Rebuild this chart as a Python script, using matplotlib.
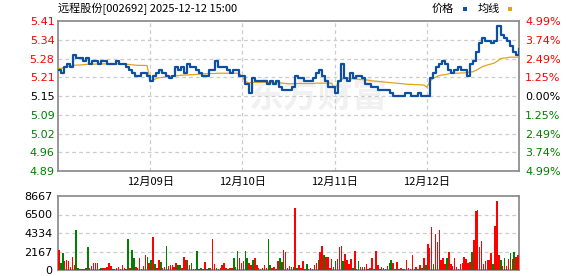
import matplotlib
matplotlib.use('Agg')
import matplotlib.pyplot as plt
import numpy as np
from matplotlib.patches import Rectangle

CJK = ['Noto Sans CJK SC', 'DejaVu Sans']
plt.rcParams['font.family'] = ['DejaVu Sans']

# ---------------- data ----------------
title = "远程股份[002692] 2025-12-12 15:00"
prev_close = 5.15
price_labels = ["5.41", "5.34", "5.28", "5.21", "5.15", "5.09", "5.02", "4.96", "4.89"]
pct_labels = ["4.99%", "3.74%", "2.49%", "1.25%", "0.00%", "1.25%", "2.49%", "3.74%", "4.99%"]
day_labels = ["12月09日", "12月10日", "12月11日", "12月12日"]
vol_labels = ["8667", "6500", "4334", "2167", "0"]
vol_top = 8667
legend_labels = ["价格", "均线"]

# price, 30 samples per day (last day has closing sample)
price_d1 = [5.24, 5.23, 5.25, 5.26, 5.25, 5.29, 5.28, 5.28, 5.27, 5.28,
            5.26, 5.27, 5.27, 5.26, 5.27, 5.27, 5.26, 5.26, 5.26, 5.27,
            5.26, 5.26, 5.25, 5.24, 5.23, 5.22, 5.22, 5.23, 5.23, 5.22]
price_d2 = [5.20, 5.22, 5.23, 5.24, 5.23, 5.22, 5.21, 5.22, 5.25, 5.24,
            5.25, 5.23, 5.26, 5.25, 5.25, 5.24, 5.23, 5.22, 5.22, 5.24,
            5.24, 5.27, 5.25, 5.25, 5.25, 5.24, 5.23, 5.24, 5.24, 5.22]
price_d3 = [5.22, 5.19, 5.16, 5.21, 5.20, 5.20, 5.20, 5.20, 5.19, 5.20,
            5.19, 5.20, 5.18, 5.17, 5.17, 5.17, 5.18, 5.22, 5.21, 5.21,
            5.20, 5.20, 5.20, 5.21, 5.23, 5.24, 5.22, 5.20, 5.18, 5.18]
price_d4 = [5.16, 5.20, 5.26, 5.21, 5.20, 5.23, 5.21, 5.22, 5.22, 5.21,
            5.19, 5.19, 5.18, 5.18, 5.17, 5.17, 5.17, 5.17, 5.16, 5.15,
            5.15, 5.15, 5.15, 5.16, 5.16, 5.15, 5.15, 5.16, 5.15, 5.15]
price_d5 = [5.15, 5.21, 5.23, 5.25, 5.26, 5.27, 5.26, 5.24, 5.23, 5.24,
            5.25, 5.24, 5.24, 5.22, 5.26, 5.27, 5.30, 5.33, 5.35, 5.34,
            5.34, 5.33, 5.34, 5.39, 5.36, 5.35, 5.34, 5.32, 5.30, 5.29,
            5.31]

avg_d1 = [5.244, 5.245, 5.247, 5.250, 5.253, 5.255, 5.256, 5.256, 5.257, 5.258,
          5.259, 5.259, 5.259, 5.260, 5.260, 5.260, 5.260, 5.260, 5.260, 5.260,
          5.260, 5.260, 5.259, 5.258, 5.257, 5.256, 5.255, 5.255, 5.255, 5.254]
avg_d2 = [5.200, 5.205, 5.210, 5.213, 5.214, 5.215, 5.217, 5.218, 5.219, 5.220,
          5.221, 5.222, 5.222, 5.223, 5.223, 5.224, 5.225, 5.226, 5.226, 5.227,
          5.227, 5.227, 5.228, 5.228, 5.228, 5.228, 5.228, 5.228, 5.228, 5.228]
avg_d3 = [5.215, 5.200, 5.195, 5.196, 5.197, 5.197, 5.197, 5.197, 5.196, 5.196,
          5.196, 5.196, 5.195, 5.194, 5.193, 5.192, 5.192, 5.193, 5.193, 5.193,
          5.193, 5.193, 5.193, 5.193, 5.194, 5.194, 5.194, 5.194, 5.194, 5.194]
avg_d4 = [5.175, 5.190, 5.205, 5.210, 5.210, 5.210, 5.209, 5.208, 5.207, 5.206,
          5.205, 5.204, 5.202, 5.201, 5.200, 5.199, 5.198, 5.197, 5.196, 5.195,
          5.194, 5.193, 5.192, 5.191, 5.190, 5.190, 5.189, 5.189, 5.188, 5.188]
avg_d5 = [5.180, 5.200, 5.210, 5.215, 5.220, 5.222, 5.223, 5.226, 5.228, 5.228,
          5.228, 5.229, 5.229, 5.230, 5.232, 5.233, 5.238, 5.244, 5.250, 5.254,
          5.257, 5.260, 5.263, 5.270, 5.278, 5.280, 5.281, 5.283, 5.283, 5.283,
          5.283]

# volume, 48 samples per day; up flag 1 = red (up), 0 = green (down)
vol_d1 = [2290, 800, 2000, 1080, 1200, 1080, 300, 1560, 600, 4690,
          200, 150, 150, 150, 200, 2690, 280, 480, 800, 800,
          840, 150, 200, 280, 200, 400, 840, 480, 150, 150,
          200, 360, 150, 600, 200, 150, 3610, 200, 2400, 1400,
          400, 200, 1440, 150, 520, 1800, 1560, 800]
up_d1 = [1, 0, 0, 1, 1, 1, 1, 1, 1, 0,
         0, 0, 1, 0, 0, 0, 1, 1, 1, 1,
         1, 1, 0, 1, 1, 1, 1, 1, 1, 0,
         1, 1, 1, 1, 1, 0, 0, 1, 0, 0,
         1, 1, 1, 1, 1, 1, 0, 1]
vol_d2 = [1200, 3850, 720, 200, 1200, 960, 280, 400, 2800, 520,
          600, 600, 400, 800, 640, 640, 200, 1520, 1160, 1160,
          600, 800, 150, 150, 2250, 150, 280, 150, 920, 150,
          200, 200, 3610, 760, 200, 150, 200, 600, 800, 200,
          150, 280, 280, 1400, 320, 2200, 1400, 800]
up_d2 = [0, 1, 0, 1, 1, 0, 1, 1, 0, 1,
         1, 1, 1, 1, 0, 0, 1, 1, 1, 0,
         1, 0, 0, 1, 0, 0, 0, 1, 1, 1,
         0, 1, 1, 1, 0, 1, 1, 1, 1, 1,
         1, 1, 1, 0, 0, 0, 1, 1]
vol_d3 = [1000, 2200, 1400, 800, 600, 1160, 1440, 600, 200, 150,
          200, 600, 200, 3610, 640, 200, 360, 150, 1040, 1360,
          960, 2290, 2130, 200, 480, 360, 400, 7300, 200, 560,
          240, 1080, 150, 720, 150, 200, 150, 560, 800, 1160,
          2090, 2770, 1720, 1560, 1560, 280, 1320, 400]
up_d3 = [1, 0, 0, 1, 1, 0, 1, 1, 1, 0,
         1, 1, 1, 0, 0, 1, 1, 1, 1, 0,
         0, 1, 1, 1, 1, 1, 0, 1, 0, 1,
         1, 1, 0, 0, 1, 1, 1, 1, 1, 0,
         1, 1, 0, 1, 1, 1, 1, 1]
vol_d4 = [1000, 1280, 2650, 2770, 1000, 1920, 1160, 720, 1280, 200,
          2250, 150, 1080, 320, 400, 400, 680, 150, 240, 1400,
          150, 2250, 560, 150, 400, 200, 150, 480, 800, 1200,
          800, 150, 960, 150, 240, 150, 150, 1160, 240, 150,
          1800, 150, 360, 150, 600, 200, 1400, 600]
up_d4 = [0, 1, 1, 1, 0, 1, 1, 1, 1, 0,
         1, 1, 0, 1, 0, 1, 1, 1, 1, 1,
         1, 1, 1, 1, 1, 1, 1, 1, 0, 0,
         1, 1, 1, 1, 1, 1, 1, 1, 1, 1,
         1, 1, 1, 1, 1, 0, 1, 0]
vol_d5 = [3050, 2530, 5020, 760, 4170, 3290, 4730, 1160, 1440, 760,
          1400, 2130, 720, 480, 1360, 400, 150, 720, 840, 1560,
          1240, 840, 920, 2080, 3490, 6900, 7050, 2690, 3450, 720,
          1040, 1160, 1160, 2010, 720, 5140, 8100, 1760, 1200, 520,
          1400, 440, 1280, 2010, 1300, 2050, 1560, 1760]
up_d5 = [1, 1, 1, 0, 1, 1, 1, 1, 1, 1,
         0, 1, 1, 1, 1, 1, 1, 1, 1, 1,
         1, 1, 1, 0, 1, 1, 1, 1, 1, 1,
         1, 1, 1, 1, 0, 1, 1, 1, 0, 1,
         0, 1, 1, 0, 1, 0, 1, 1]

# ---------------- style ----------------
W, H = 578, 276
BLUE = '#0d4fa3'
GOLD = '#e0a41c'
RED = '#ff0000'
GREEN = '#008000'
FRAME = '#8f8f8f'
GRID = '#cccccc'

fig = plt.figure(figsize=(W / 100, H / 100), dpi=100)
fig.patch.set_facecolor('white')


def fx(px):
    return px / W


def fy(py):
    return 1 - py / H


ax = fig.add_axes([fx(58), fy(171), fx(519) - fx(58), fy(21) - fy(171)])
axv = fig.add_axes([fx(58), fy(270), fx(519) - fx(58), fy(196) - fy(270)])

# watermark
ax.text(0.565, 0.50, "东方财富", transform=ax.transAxes, ha='center', va='center',
        fontsize=25, fontweight='bold', color='#f1f1f1', family=CJK, zorder=0)

# price lines
prices = [price_d1, price_d2, price_d3, price_d4, price_d5]
avgs = [avg_d1, avg_d2, avg_d3, avg_d4, avg_d5]
px_x, px_y, av_y = [], [], []
for d, (p, a) in enumerate(zip(prices, avgs)):
    for i in range(len(p)):
        px_x.append(d + i / 30)
        px_y.append(p[i])
        av_y.append(a[i])
ax.plot(px_x, av_y, color=GOLD, lw=0.9, zorder=3)
ax.plot(px_x, px_y, color=BLUE, lw=1.6, drawstyle='steps-post', zorder=4)

lo = prev_close * (1 - 0.0499)
hi = prev_close * (1 + 0.0499)
ax.set_xlim(0, 5)
ax.set_ylim(lo, hi)
yt = np.linspace(hi, lo, len(price_labels))
ax.set_yticks(yt)
ax.set_yticklabels(price_labels)
ax.set_xticks([1, 2, 3, 4])
ax.set_xticklabels(day_labels, family=CJK, fontsize=8)
ax.tick_params(axis='x', length=0, pad=4.5)
ax.tick_params(axis='y', length=0, pad=2.5, labelsize=8)
for i, lab in enumerate(ax.get_yticklabels()):
    lab.set_color(RED if i < 4 else ('black' if i == 4 else GREEN))

ax2 = ax.twinx()
ax2.set_ylim(lo, hi)
ax2.set_yticks(yt)
ax2.set_yticklabels(pct_labels)
ax2.tick_params(axis='y', length=0, pad=4.5, labelsize=8)
for i, lab in enumerate(ax2.get_yticklabels()):
    lab.set_color(RED if i < 4 else ('black' if i == 4 else GREEN))
for sp in ax2.spines.values():
    sp.set_visible(False)

for y in yt[1:-1]:
    ax.axhline(y, color=GRID, lw=0.9, dashes=(3, 2.5), zorder=1)
for x in [1, 2, 3, 4]:
    ax.axvline(x, color=GRID, lw=0.9, dashes=(3, 2.5), zorder=1)

# volume
vols = [vol_d1, vol_d2, vol_d3, vol_d4, vol_d5]
ups = [up_d1, up_d2, up_d3, up_d4, up_d5]
bx, bh, bc = [], [], []
for d, (v, u) in enumerate(zip(vols, ups)):
    for k in range(len(v)):
        bx.append(d + (k + 0.5) / 48)
        bh.append(v[k])
        bc.append(RED if u[k] else GREEN)
axv.bar(bx, bh, width=0.8 / 48, color=bc, linewidth=0, zorder=3)
axv.set_xlim(0, 5)
axv.set_ylim(0, vol_top)
vt = np.linspace(vol_top, 0, len(vol_labels))
axv.set_yticks(vt)
axv.set_yticklabels(vol_labels)
axv.set_xticks([])
axv.tick_params(axis='y', length=0, pad=4, labelsize=8, labelcolor='black')
for y in vt[1:-1]:
    axv.axhline(y, color=GRID, lw=0.9, dashes=(3, 2.5), zorder=1)

for a in (ax, axv):
    for sp in a.spines.values():
        sp.set_color(FRAME)
        sp.set_linewidth(1.3)
    a.set_facecolor('white')

# title and legend
fig.text(fx(58), fy(9), title, ha='left', va='center', fontsize=8, family=CJK)
fig.text(fx(432), fy(9), legend_labels[0], ha='left', va='center', fontsize=8, family=CJK)
fig.text(fx(478), fy(9), legend_labels[1], ha='left', va='center', fontsize=8, family=CJK)
fig.patches.append(Rectangle((fx(463), fy(10.5)), fx(4), 4 / H, transform=fig.transFigure,
                             facecolor=BLUE, edgecolor='none'))
fig.patches.append(Rectangle((fx(508), fy(10.5)), fx(4), 4 / H, transform=fig.transFigure,
                             facecolor=GOLD, edgecolor='none'))

fig.savefig('out.png', dpi=100)
